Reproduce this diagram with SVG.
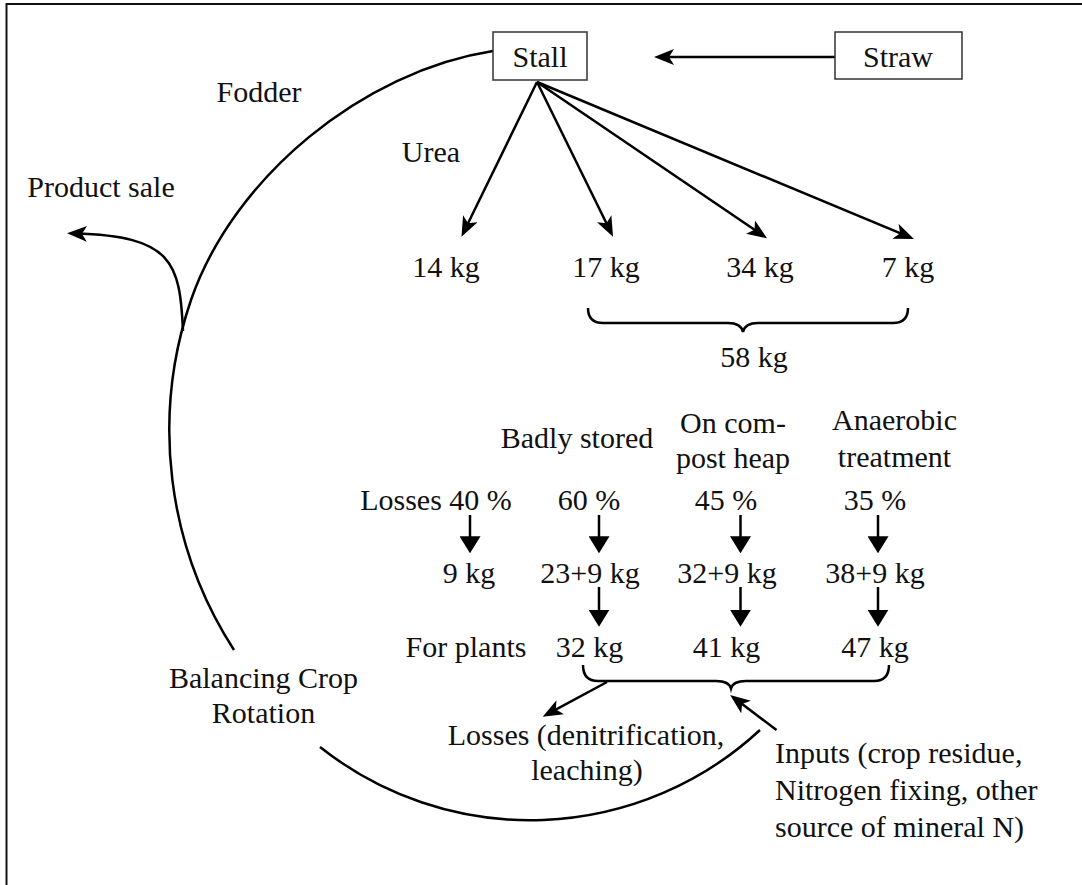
<svg xmlns="http://www.w3.org/2000/svg" width="1082" height="885" viewBox="0 0 1082 885">
<style>
text{font-family:"Liberation Serif","Times New Roman",serif;font-size:30px;fill:#111;}
.m{text-anchor:middle;}
.ln{fill:none;stroke:#000;stroke-width:2.5;}
.box{fill:#fff;stroke:#333;stroke-width:1.5;}
.frame{fill:none;stroke:#111;stroke-width:2;}
</style>
<defs>
<marker id="barb" markerUnits="userSpaceOnUse" markerWidth="20" markerHeight="16" viewBox="0 -8 20 16" refX="12" refY="0" orient="auto">
<path d="M20,0 L0,-8 L5,0 L0,8 Z" fill="#000"/>
</marker>
<marker id="tri" markerUnits="userSpaceOnUse" markerWidth="17" markerHeight="21" viewBox="0 -10.5 17 21" refX="7" refY="0" orient="auto">
<path d="M17,0 L0,-10.5 L0,10.5 Z" fill="#000"/>
</marker>
</defs>

<path class="frame" d="M6.5,885 V4 H1082"/>

<g id="connectors">
<line class="ln" x1="835" y1="57" x2="662" y2="57" marker-end="url(#barb)"/>
<line class="ln" x1="537" y1="82" x2="465" y2="229.5" marker-end="url(#barb)"/>
<line class="ln" x1="537" y1="82" x2="609.5" y2="229.5" marker-end="url(#barb)"/>
<line class="ln" x1="537" y1="82" x2="760.4" y2="233.8" marker-end="url(#barb)"/>
<line class="ln" x1="537" y1="82" x2="906.6" y2="235.9" marker-end="url(#barb)"/>
<path class="ln" d="M493,51 C363,71 233.5,177 191,300 A404.5,404.5 0 0,0 234,650"/>
<path class="ln" d="M183,331 C180,262 172,236 75,233.5" marker-end="url(#barb)"/>
<path class="ln" d="M320,747 A338,338 0 0,0 760,730"/>
<path class="ln" d="M588,308 Q588,323 603,323 H728 Q741,323 743,332 Q745,323 758,323 H893 Q908,323 908,308"/>
<path class="ln" d="M583,665 Q583,681 598,681 H716 Q729,681 731,688.5 Q733,681 746,681 H874 Q889,681 889,665"/>
<line class="ln" x1="470" y1="515" x2="470" y2="543.3" marker-end="url(#tri)"/>
<line class="ln" x1="599" y1="515" x2="599" y2="543.3" marker-end="url(#tri)"/>
<line class="ln" x1="740.5" y1="515" x2="740.5" y2="543.3" marker-end="url(#tri)"/>
<line class="ln" x1="878" y1="515" x2="878" y2="543.3" marker-end="url(#tri)"/>
<line class="ln" x1="599" y1="587" x2="599" y2="616.7" marker-end="url(#tri)"/>
<line class="ln" x1="740.5" y1="587" x2="740.5" y2="616.7" marker-end="url(#tri)"/>
<line class="ln" x1="878" y1="587" x2="878" y2="616.7" marker-end="url(#tri)"/>
<line class="ln" x1="607" y1="682" x2="549.7" y2="712.9" marker-end="url(#barb)"/>
<line class="ln" x1="776.5" y1="730" x2="736.5" y2="699.8" marker-end="url(#barb)"/>
</g>

<g id="stall">
<rect class="box" x="493" y="32" width="94" height="48"/>
<text class="m" x="540" y="67">Stall</text>
</g>
<g id="straw">
<rect class="box" x="835" y="32" width="127" height="47"/>
<text class="m" x="898" y="67">Straw</text>
</g>

<g id="labels">
<text class="m" x="259" y="102">Fodder</text>
<text class="m" x="431" y="162">Urea</text>
<text class="m" x="101" y="197">Product sale</text>
<text class="m" x="446" y="277">14 kg</text>
<text class="m" x="606" y="277">17 kg</text>
<text class="m" x="760" y="277">34 kg</text>
<text class="m" x="908" y="277">7 kg</text>
<text class="m" x="754" y="367">58 kg</text>
<text class="m" x="577" y="448">Badly stored</text>
<text class="m" x="733" y="433">On com-</text>
<text class="m" x="733" y="468">post heap</text>
<text class="m" x="894.5" y="430">Anaerobic</text>
<text class="m" x="894.5" y="467">treatment</text>
<text class="m" x="436" y="510">Losses 40 %</text>
<text class="m" x="589" y="510">60 %</text>
<text class="m" x="726" y="510">45 %</text>
<text class="m" x="875" y="510">35 %</text>
<text class="m" x="469" y="583">9 kg</text>
<text class="m" x="590" y="583">23+9 kg</text>
<text class="m" x="727" y="583">32+9 kg</text>
<text class="m" x="875" y="583">38+9 kg</text>
<text class="m" x="466" y="657">For plants</text>
<text class="m" x="589.5" y="657">32 kg</text>
<text class="m" x="726.5" y="657">41 kg</text>
<text class="m" x="875" y="657">47 kg</text>
<text class="m" x="263.5" y="688">Balancing Crop</text>
<text class="m" x="263.5" y="723">Rotation</text>
<text class="m" x="586" y="745">Losses (denitrification,</text>
<text class="m" x="587" y="780">leaching)</text>
<text x="775" y="763">Inputs (crop residue,</text>
<text x="775" y="800">Nitrogen fixing, other</text>
<text x="775" y="837">source of mineral N)</text>
</g>
</svg>
